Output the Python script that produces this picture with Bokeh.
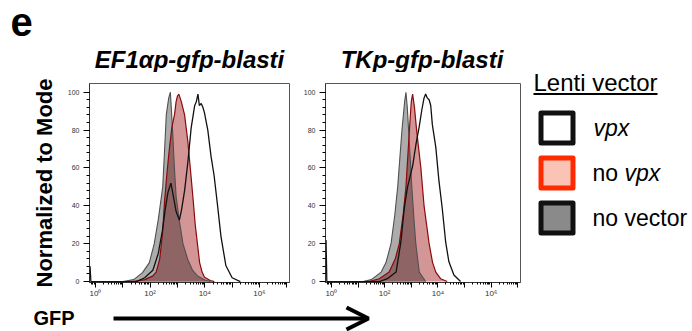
import numpy as np
from bokeh.plotting import figure
from bokeh.layouts import row, column
from bokeh.models import Range1d, FixedTicker, Arrow, OpenHead
from bokeh.core.properties import value
from bokeh.embed import file_html
from bokeh.resources import INLINE

# ---------------- data (x in log10 GFP units, y = % of mode) ----------------
PANEL_TAG = "e"
PANEL_TITLES = ["EF1\u03b1p-gfp-blasti", "TKp-gfp-blasti"]

ef1_novec_x = [1.0, 1.4, 1.72, 1.97, 2.15, 2.3, 2.46, 2.53, 2.59, 2.68, 2.74, 2.78, 2.82, 2.88, 2.95, 3.07, 3.2, 3.38, 3.55, 3.75, 4.0, 4.2]
ef1_novec_y = [0, 1, 4.7, 10, 20, 33, 50, 70, 88, 97, 100, 90, 80, 62, 45, 32, 20, 11.5, 6, 2.8, 0.8, 0]

ef1_novpx_x = [1.35, 1.8, 2.1, 2.22, 2.35, 2.45, 2.53, 2.62, 2.71, 2.8, 2.89, 2.95, 3.0, 3.05, 3.14, 3.26, 3.38, 3.5, 3.58, 3.65, 3.73, 3.81, 3.9, 3.99, 4.2, 4.35]
ef1_novpx_y = [0, 1, 3, 5, 12, 25, 43, 58, 71, 82, 88, 95, 98, 99, 95, 88, 74, 55, 42, 30, 20, 10, 5, 2.3, 0.5, 0]

ef1_vpx_x = [-0.2, -0.17, 1.5, 1.8, 2.1, 2.3, 2.45, 2.55, 2.65, 2.76, 2.85, 2.95, 3.07, 3.15, 3.26, 3.38, 3.5, 3.63, 3.69, 3.75, 3.8, 3.87, 3.93, 3.99, 4.11, 4.23, 4.34, 4.46, 4.59, 4.77, 5.0, 5.3]
ef1_vpx_y = [8, 0, 0, 2, 6, 15, 27, 38, 47, 52, 45, 37, 32.5, 38, 48, 63, 81, 93, 95, 99, 93, 94, 92, 89, 80, 66, 56, 41, 24, 8.5, 2, 0]

tk_novec_x = [1.19, 1.5, 1.87, 2.05, 2.24, 2.38, 2.49, 2.65, 2.75, 2.8, 2.85, 2.9, 3.02, 3.1, 3.17, 3.3, 3.54]
tk_novec_y = [0, 1, 5, 10, 20, 35, 50, 80, 95, 100, 92, 80, 50, 33, 20, 5, 0]

tk_novpx_x = [1.42, 1.8, 2.17, 2.4, 2.55, 2.7, 2.8, 2.93, 3.0, 3.05, 3.12, 3.2, 3.36, 3.48, 3.67, 3.8, 3.92, 4.1, 4.35]
tk_novpx_y = [0, 1.5, 5, 12, 20, 36, 50, 80, 95, 99, 92, 80, 60, 40, 20, 10, 5, 1.5, 0]

tk_vpx_x = [-0.2, -0.17, 1.81, 2.1, 2.43, 2.61, 2.74, 2.86, 3.05, 3.17, 3.3, 3.4, 3.48, 3.54, 3.6, 3.67, 3.73, 3.79, 3.92, 4.04, 4.16, 4.29, 4.41, 4.6, 4.85]
tk_vpx_y = [22, 0, 0, 1.5, 5, 21, 39, 50, 61, 72, 82, 91, 97, 99, 97, 96, 93, 83, 71, 53, 39, 21, 10.6, 3.5, 0]

Y_TICKS = [0, 20, 40, 60, 80, 100]
X_DECADES = [0, 1, 2, 3, 4, 5, 6, 7]
X_TICK_LABELS = {0: "10\u2070", 1: "", 2: "10\u00b2", 3: "", 4: "10\u2074", 5: "", 6: "10\u2076", 7: ""}

LEGEND_TITLE = "Lenti vector"
LEGEND_FILLS = ["#ffffff", "#fac3b5", "#8a8a8a"]
LEGEND_BORDERS = ["#111111", "#ff2a00", "#111111"]

# ---------------- styles ----------------
FONT = "Liberation Sans"
GRAY_FILL = (172, 172, 172)
RED_FILL = (211, 149, 150)
OVER_FILL = tuple(int(a * b / 255) for a, b in zip(GRAY_FILL, RED_FILL))  # multiply blend
GRAY_LINE = "#505050"
RED_LINE = "#8b0a0a"

X_START, X_END = -0.22, 7.1
Y_START, Y_END = -0.5, 104.6
STRIP_H = 72
TOP, FRAME_H, BOTTOM = 11, 200, 17
LEFT_W, RIGHT_W, LEG_W, BOT_H = 300, 227, 165, 31
MID = 0.3465  # baseline -> em-box middle offset (in em) for Liberation Sans


def rgb(c):
    return "#%02x%02x%02x" % c


def mid(baseline, size):
    return baseline - MID * size


def no_align(p):
    if hasattr(p, "frame_align"):
        p.frame_align = False


def blank(width, height, xr, yr):
    p = figure(width=width, height=height, output_backend="svg", toolbar_location=None,
               x_range=Range1d(*xr), y_range=Range1d(*yr),
               x_axis_location=None, y_axis_location=None, min_border=0)
    p.outline_line_color = None
    p.grid.visible = False
    no_align(p)
    return p


def panel(gx, gy, rx, ry, vx, vy, width, bl, br, ylabel=None):
    p = figure(width=width, height=TOP + FRAME_H + BOTTOM, output_backend="svg",
               toolbar_location=None,
               x_range=Range1d(X_START, X_END), y_range=Range1d(Y_START, Y_END),
               min_border_left=bl, min_border_right=br, min_border_top=TOP,
               min_border_bottom=BOTTOM)
    p.outline_line_color = "#555555"
    p.grid.visible = False
    p.background_fill_color = "white"
    p.border_fill_color = "white"

    gx, gy, rx, ry = map(np.asarray, (gx, gy, rx, ry))
    p.varea(x=gx, y1=0, y2=gy, fill_color=rgb(GRAY_FILL))
    p.varea(x=rx, y1=0, y2=ry, fill_color=rgb(RED_FILL))
    grid = np.union1d(gx, rx)
    ov = np.minimum(np.interp(grid, gx, gy, left=0, right=0),
                    np.interp(grid, rx, ry, left=0, right=0))
    p.varea(x=grid, y1=0, y2=ov, fill_color=rgb(OVER_FILL))
    p.line(gx, gy, line_color=GRAY_LINE, line_width=1.1)
    p.line(rx, ry, line_color=RED_LINE, line_width=1.2)
    p.line(vx, vy, line_color="#111111", line_width=1.3)

    minor = [np.log10(k * 10.0 ** d) for d in range(-1, 8) for k in range(2, 10)]
    xa = p.xaxis[0]
    xa.ticker = FixedTicker(ticks=X_DECADES, minor_ticks=minor)
    xa.major_label_overrides = X_TICK_LABELS
    xa.major_tick_out = 5
    xa.major_tick_in = 0
    xa.minor_tick_out = 2
    xa.minor_tick_in = 0
    xa.major_label_standoff = 1
    xa.major_label_text_font = FONT
    xa.major_label_text_font_size = "8px"
    xa.major_label_text_color = "#333333"
    xa.axis_line_color = "#333333"

    ya = p.yaxis[0]
    ya.ticker = FixedTicker(ticks=Y_TICKS, minor_ticks=list(range(0, 101, 4)))
    ya.major_tick_out = 6
    ya.major_tick_in = 0
    ya.minor_tick_out = 3
    ya.minor_tick_in = 0
    ya.major_label_standoff = 4
    ya.major_label_text_font = FONT
    ya.major_label_text_font_size = "7px"
    ya.major_label_text_color = "#333333"
    ya.axis_line_color = "#333333"
    if ylabel:
        ya.axis_label = ylabel
        ya.axis_label_text_font = FONT
        ya.axis_label_text_font_size = "22px"
        ya.axis_label_text_font_style = "bold"
        ya.axis_label_text_color = "black"
        ya.axis_label_standoff = 8
    return p


p1 = panel(ef1_novec_x, ef1_novec_y, ef1_novpx_x, ef1_novpx_y,
           ef1_vpx_x, ef1_vpx_y, width=LEFT_W, bl=89, br=11, ylabel="Normalized to Mode")
p2 = panel(tk_novec_x, tk_novec_y, tk_novpx_x, tk_novpx_y,
           tk_vpx_x, tk_vpx_y, width=RIGHT_W, bl=23, br=7)

# ---------------- top strip: panel tag and panel titles (page pixels) ----------------
strip = blank(LEFT_W + RIGHT_W, STRIP_H, (0, LEFT_W + RIGHT_W), (STRIP_H, 0))
strip.text(x=[10], y=[mid(35, 40)], text=[PANEL_TAG], text_font=value(FONT), text_font_size="40px",
           text_font_style="bold", text_baseline="middle", text_align="left",
           text_color="black")
strip.text(x=[189, 421.5], y=[mid(67, 24)] * 2, text=PANEL_TITLES, text_font=value(FONT),
           text_font_size="24px", text_font_style="bold italic", text_baseline="middle",
           text_align="center", text_color="black")

# ---------------- bottom: GFP arrow ----------------
bot = blank(LEFT_W + RIGHT_W, BOT_H, (0, LEFT_W + RIGHT_W),
            (STRIP_H + TOP + FRAME_H + BOTTOM + BOT_H, STRIP_H + TOP + FRAME_H + BOTTOM))
bot.text(x=[33], y=[317], text=["GFP"], text_font=value(FONT), text_font_size="20px",
         text_font_style="bold", text_baseline="middle", text_align="left", text_color="black")
bot.add_layout(Arrow(end=OpenHead(size=22, line_width=4, line_color="black"),
                     x_start=113, y_start=318, x_end=368, y_end=318,
                     line_width=4, line_color="black"))

# ---------------- legend (page pixels) ----------------
TOTAL_H = STRIP_H + TOP + FRAME_H + BOTTOM + BOT_H
leg = blank(LEG_W, TOTAL_H, (LEFT_W + RIGHT_W, LEFT_W + RIGHT_W + LEG_W), (TOTAL_H, 0))
leg.text(x=[533], y=[mid(90.5, 24)], text=[LEGEND_TITLE], text_font=value(FONT),
         text_font_size="24px", text_baseline="middle", text_align="left", text_color="black")
leg.segment(x0=[533], y0=[93.5], x1=[657], y1=[93.5], line_color="black", line_width=2)
leg.rect(x=[556.5] * 3, y=[127.5, 172.5, 217.5], width=32, height=30,
         fill_color=LEGEND_FILLS, line_color=LEGEND_BORDERS, line_width=5, line_join="round")
lab_kw = dict(text_font=value(FONT), text_font_size="23px", text_baseline="middle",
              text_align="left", text_color="black")
leg.text(x=[593], y=[mid(135.5, 23)], text=["vpx"], text_font_style="italic", **lab_kw)
leg.text(x=[592], y=[mid(180.5, 23)], text=["no "], **lab_kw)
leg.text(x=[624], y=[mid(180.5, 23)], text=["vpx"], text_font_style="italic", **lab_kw)
leg.text(x=[592], y=[mid(225.5, 23)], text=["no vector"], **lab_kw)

layout = row(column(strip, row(p1, p2), bot), leg)
open("out.html", "w").write(file_html(layout, INLINE))
